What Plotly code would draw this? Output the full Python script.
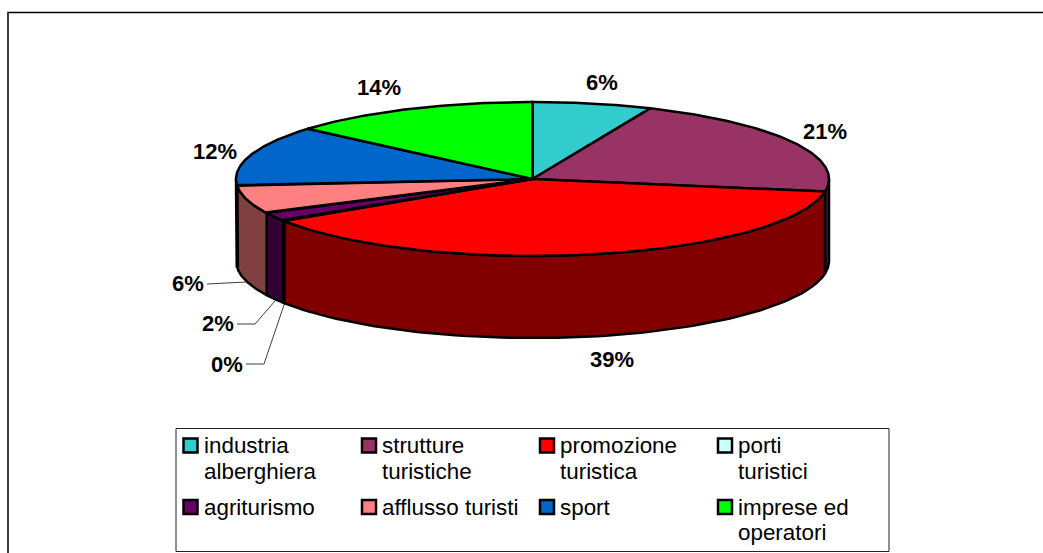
import numpy as np
import plotly.graph_objects as go

categories = ["industria alberghiera", "strutture turistiche", "promozione turistica", "porti turistici",
              "agriturismo", "afflusso turisti", "sport", "imprese ed operatori"]
legend_lines = [["industria", "alberghiera"], ["strutture", "turistiche"], ["promozione", "turistica"],
                ["porti", "turistici"], ["agriturismo"], ["afflusso turisti"], ["sport"], ["imprese ed", "operatori"]]
values = [6.5, 21.1, 38.2, 0.1, 1.8, 5.9, 12.7, 13.7]
percent_labels = ["6%", "21%", "39%", "0%", "2%", "6%", "12%", "14%"]
top_colors = ["#33CCCC", "#993366", "#FF0000", "#CCFFFF", "#660066", "#FF8080", "#0066CC", "#00FF00"]
side_colors = ["#1A6666", "#4D1A33", "#800000", "#668080", "#330033", "#804040", "#003366", "#008000"]

# pie projection (pixels)
CX, CY, RX, RY, DEPTH = 532.5, 179, 296.5, 77, 82
FONT = "Liberation Sans"
W, H = 1043, 553

def rim(a, b, n=90):
    t = np.radians(np.linspace(a, b, n))
    return CX + RX * np.sin(t), CY - RY * np.cos(t)

fig = go.Figure()
edges = np.concatenate([[0], np.cumsum(values)]) / sum(values) * 360
line = dict(color="black", width=2.5)

# walls
for i, cat in enumerate(categories):
    a, b = max(edges[i], 90), min(edges[i + 1], 270)
    if a >= b:
        continue
    x, y = rim(a, b)
    fig.add_trace(go.Scatter(x=np.r_[x, x[::-1], x[0]], y=np.r_[y, y[::-1] + DEPTH, y[0]], mode="lines",
                             fill="toself", fillcolor=side_colors[i], line=line, name=cat + " (lato)",
                             hoverinfo="skip", showlegend=False))
# tops
for i, cat in enumerate(categories):
    x, y = rim(edges[i], edges[i + 1])
    fig.add_trace(go.Scatter(x=np.r_[CX, x, CX], y=np.r_[CY, y, CY], mode="lines", fill="toself",
                             fillcolor=top_colors[i], line=line, name=cat,
                             hoverinfo="name", showlegend=False))

# percentage labels (pixel placement of each text)
label_xy = [(602, 82), (825, 131), (612, 359), (227, 364), (218, 323), (188, 283), (215, 151), (379, 87)]
anns = []
for txt, (lx, ly) in zip(percent_labels, label_xy):
    anns.append(dict(x=lx, y=ly, xref="x", yref="y", text=f"<b>{txt}</b>", showarrow=False,
                     font=dict(family=FONT, size=22, color="black"), xanchor="center", yanchor="middle"))

# leader lines
shapes = []
for path in ["M207 284 L246 282", "M237 324 L255 324 L275 301", "M246 364 L264 364 L284 305"]:
    shapes.append(dict(type="path", path=path, xref="x", yref="y", line=dict(color="#404040", width=1)))
# chart frame (runs off the right and bottom of the page) and legend box
shapes.append(dict(type="rect", x0=8, y0=12.5, x1=1070, y1=580, xref="x", yref="y",
                   line=dict(color="black", width=1.5), layer="below"))
shapes.append(dict(type="rect", x0=176, y0=428.5, x1=889, y1=551.5, xref="x", yref="y",
                   line=dict(color="#222222", width=1), layer="below"))

# legend entries
col_x = [190.5, 369, 547, 725]
row_y = [445.5, 507]
sx, sy = [], []
for i, lines in enumerate(legend_lines):
    mx, my = col_x[i % 4], row_y[i // 4]
    sx.append(mx); sy.append(my)
    for k, t in enumerate(lines):
        anns.append(dict(x=mx + 11, y=my + 25.5 * k, xref="x", yref="y", text=t, showarrow=False,
                         font=dict(family=FONT, size=22.4, color="black"), xanchor="left", yanchor="middle"))
fig.add_trace(go.Scatter(x=sx, y=sy, mode="markers", marker=dict(symbol="square", size=14, color=top_colors,
                         line=dict(color="black", width=2.5)), hoverinfo="skip", showlegend=False))

fig.update_layout(width=W, height=H, autosize=False, margin=dict(l=0, r=0, t=0, b=0),
                  paper_bgcolor="white", plot_bgcolor="white", annotations=anns, shapes=shapes,
                  xaxis=dict(range=[0, W], visible=False, fixedrange=True),
                  yaxis=dict(range=[H, 0], visible=False, fixedrange=True), showlegend=False)
fig.write_html("out.html", post_script="document.body.style.margin='0';", config={"displayModeBar": False})
